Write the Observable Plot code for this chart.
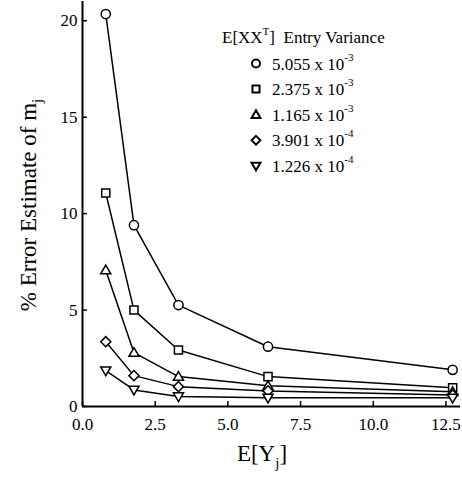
<!DOCTYPE html>
<html><head><meta charset="utf-8">
<script src="https://cdn.jsdelivr.net/npm/d3@7"></script>
<script src="https://cdn.jsdelivr.net/npm/@observablehq/plot@0.6"></script>
<style>
html,body{margin:0;padding:0;background:#fff;}
</style></head>
<body><div id="chart"></div>
<script>
// E[Y_j] values (x axis)
const xValues = [0.8, 1.77, 3.3, 6.38, 12.73];
// % error estimate for each E[XX^T] entry variance
const seriesNames = ["5.055 x 10^-3", "2.375 x 10^-3", "1.165 x 10^-3", "3.901 x 10^-4", "1.226 x 10^-4"];
const legendMantissa = ["5.055 x 10", "2.375 x 10", "1.165 x 10", "3.901 x 10", "1.226 x 10"];
const legendExponent = ["-3", "-3", "-3", "-4", "-4"];
const s1 = [20.35, 9.4, 5.26, 3.1, 1.9];
const s2 = [11.07, 5.0, 2.93, 1.55, 0.97];
const s3 = [7.07, 2.79, 1.55, 1.07, 0.76];
const s4 = [3.36, 1.6, 1.03, 0.81, 0.6];
const s5 = [1.86, 0.86, 0.52, 0.45, 0.45];
const xTicks = [0, 2.5, 5, 7.5, 10, 12.5];
const yTicks = [0, 5, 10, 15, 20];

const allSeries = [s1, s2, s3, s4, s5];
const rows = [];
allSeries.forEach((s, i) => s.forEach((v, j) => rows.push({series: seriesNames[i], x: xValues[j], y: v})));

const rad = size => Math.sqrt(size / Math.PI);
const symCircle = {draw(c, size) { const r = rad(size); c.moveTo(r, 0); c.arc(0, 0, r, 0, 2 * Math.PI); }};
const symSquare = {draw(c, size) { const r = rad(size) * 0.88; c.rect(-r, -r, 2 * r, 2 * r); }};
const symTri = {draw(c, size) { const r = rad(size); c.moveTo(0, -r * 1.1); c.lineTo(r * 1.1, r * 0.8); c.lineTo(-r * 1.1, r * 0.8); c.closePath(); }};
const symDiamond = {draw(c, size) { const r = rad(size) * 1.1; c.moveTo(0, -r); c.lineTo(r, 0); c.lineTo(0, r); c.lineTo(-r, 0); c.closePath(); }};
const symInvTri = {draw(c, size) { const r = rad(size); c.moveTo(0, r * 1.1); c.lineTo(r * 1.1, -r * 0.8); c.lineTo(-r * 1.1, -r * 0.8); c.closePath(); }};
const symbols = [symCircle, symSquare, symTri, symDiamond, symInvTri];

const font = "Liberation Serif";
const W = 462, H = 479, ML = 82, MR = 2, MT = 1, MB = 73;
const frameW = W - ML - MR, frameH = H - MT - MB;
const chart = Plot.plot({
  width: W, height: H,
  marginLeft: ML, marginRight: MR, marginTop: MT, marginBottom: MB,
  style: {fontFamily: font, background: "white"},
  x: {domain: [0, 13], axis: null},
  y: {domain: [0, 21], axis: null},
  marks: [
    Plot.tickX(xTicks, {x: d => d, insetTop: frameH - 5, stroke: "black", strokeWidth: 1.5}),
    Plot.tickY(yTicks, {y: d => d, insetRight: frameW - 5, stroke: "black", strokeWidth: 1.5}),
    Plot.text(xTicks, {x: d => d, frameAnchor: "bottom", dy: 18, text: d => d.toFixed(1), fontSize: 17, fontFamily: font, fill: "black", lineAnchor: "middle"}),
    Plot.text(yTicks, {y: d => d, frameAnchor: "left", dx: -5, dy: 0, text: d => String(d), fontSize: 17, fontFamily: font, fill: "black", textAnchor: "end", lineAnchor: "middle"}),
    Plot.ruleX([0], {stroke: "black", strokeWidth: 2}),
    Plot.ruleY([0], {stroke: "black", strokeWidth: 2}),
    Plot.line(rows, {x: "x", y: "y", z: "series", stroke: "black", strokeWidth: 1.5}),
    ...seriesNames.map((name, i) => Plot.dot(rows.filter(d => d.series === name), {x: "x", y: "y", symbol: symbols[i], r: 4.6, fill: "white", stroke: "black", strokeWidth: 1.5}))
  ]
});
document.getElementById("chart").appendChild(chart);

const svg = d3.select(chart);
// axis titles
const xt = svg.append("text").attr("x", 262).attr("y", 461).attr("text-anchor", "middle")
  .attr("font-size", 23).attr("fill", "black").attr("font-family", font);
xt.append("tspan").text("E[Y");
xt.append("tspan").attr("font-size", 15).attr("dy", 7).text("j");
xt.append("tspan").attr("dy", -7).text("]");

const yt = svg.append("text").attr("transform", "translate(36,205) rotate(-90)").attr("text-anchor", "middle")
  .attr("font-size", 23).attr("fill", "black").attr("font-family", font);
yt.append("tspan").text("% Error Estimate of m");
yt.append("tspan").attr("font-size", 15).attr("dy", 6).text("j");

// legend
const lg = svg.append("g").attr("font-family", font).attr("fill", "black").attr("text-anchor", "start");
const lt = lg.append("text").attr("x", 222).attr("y", 43).attr("font-size", 17).attr("text-anchor", "start");
lt.append("tspan").text("E[XX");
lt.append("tspan").attr("font-size", 11).attr("dy", -8).text("T");
lt.append("tspan").attr("dy", 8).text("]\u00a0 Entry Variance");
seriesNames.forEach((name, i) => {
  const cy = 63.5 + i * 25.6;
  const p = d3.path();
  symbols[i].draw(p, Math.PI * 4 * 4);
  lg.append("path").attr("d", p.toString()).attr("transform", `translate(256,${cy})`)
    .attr("fill", "white").attr("stroke", "black").attr("stroke-width", 2);
  const t = lg.append("text").attr("x", 272).attr("y", cy + 6).attr("font-size", 17).attr("text-anchor", "start");
  t.append("tspan").text(legendMantissa[i]);
  t.append("tspan").attr("font-size", 11).attr("dy", -9).text(legendExponent[i]);
});
</script></body></html>
